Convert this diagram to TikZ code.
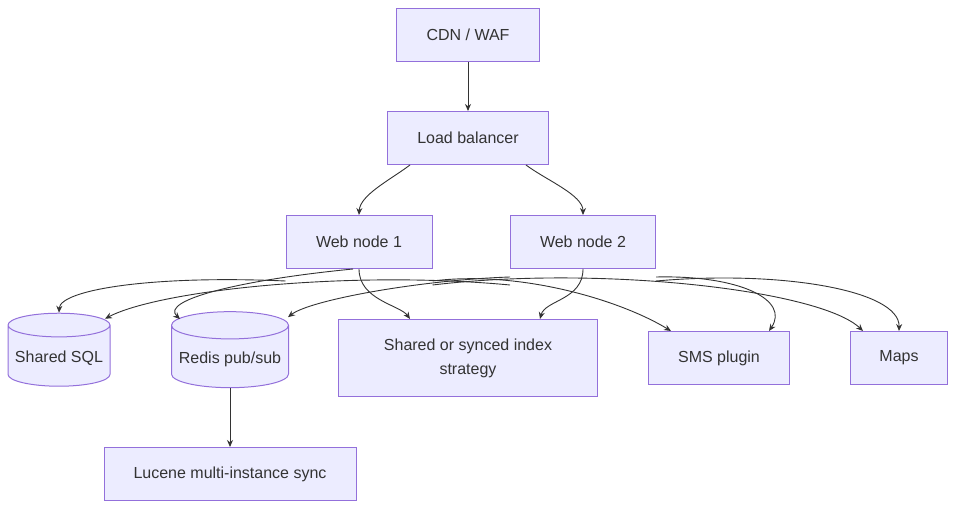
\documentclass[tikz,border=0pt]{standalone}
\usepackage{fontspec}
\setmainfont{Liberation Sans}
\usetikzlibrary{shapes.geometric,arrows.meta}
\definecolor{boxfill}{HTML}{ECECFF}
\definecolor{boxline}{HTML}{9370DB}
\definecolor{txt}{HTML}{333333}
\tikzset{
  box/.style={draw=boxline,fill=boxfill,line width=1pt,text=txt,minimum height=53pt,align=center,font=\fontsize{16}{24}\selectfont},
  db/.style={box,cylinder,shape border rotate=90,aspect=0.25,minimum height=0pt},
  link/.style={draw=txt,line width=0.9pt,-{Stealth[length=7pt,width=6pt]}}
}
\begin{document}
\begin{tikzpicture}[x=1pt,y=-1pt]
	\useasboundingbox (0,0) rectangle (957,510);
	
	\node[box,minimum width=143pt](cdn) at (468,35){CDN / WAF};
	\node[box,minimum width=161pt](lb) at (468,138){Load balancer};
	\node[box,minimum width=146pt](web1) at (359,242){Web node 1};
	\node[box,minimum width=145pt](web2) at (583,242){Web node 2};
	\node[db,minimum width=102pt,minimum height=73pt](sql) at (59,358){Shared SQL};
	\node[db,minimum width=117pt,minimum height=76pt](redis) at (230,359){Redis pub/sub};
	\node[box,minimum width=259pt,minimum height=77pt](idx) at (468,358){Shared or synced index\\strategy};
	\node[box,minimum width=141pt](sms) at (719,358){SMS plugin};
	\node[box,minimum width=97pt](maps) at (899,358){Maps};
	\node[box,minimum width=252pt](lucene) at (230,474){Lucene multi-instance sync};
	
	\draw[link](cdn)--(lb);
	\draw[link]([xshift=-58pt]lb.south) .. controls (390,180) and (360,195) .. (web1.north);
	\draw[link]([xshift=58pt]lb.south) .. controls (546,180) and (583,195) .. (web2.north);
	\draw[link]([yshift=-12pt]web1.south west) .. controls (150,275) and (60,290) .. (sql.north);
	\draw[link]([xshift=-6pt]web1.south) .. controls (240,280) and (160,300) .. ([xshift=-50pt,yshift=-8pt]redis.north);
	\draw[link](web1.south) .. controls (359,300) and (400,305) .. ([xshift=-58pt]idx.north);
	\draw[link]([yshift=-12pt]web1.south east) .. controls (520,270) and (620,300) .. ([xshift=-48pt]sms.north);
	\draw[link]([yshift=-16pt]web1.south east) .. controls (600,265) and (820,290) .. ([xshift=-36pt]maps.north);
	\draw[link]([yshift=-16pt]web2.south west) .. controls (350,270) and (160,290) .. ([xshift=46pt,yshift=-6pt]sql.north);
	\draw[link]([yshift=-8pt]web2.south west) .. controls (420,280) and (310,300) .. ([xshift=58pt,yshift=-6pt]redis.north);
	\draw[link](web2.south) .. controls (583,300) and (545,300) .. ([xshift=72pt]idx.north);
	\draw[link]([yshift=-8pt]web2.south east) .. controls (740,275) and (790,300) .. ([xshift=50pt]sms.north);
	\draw[link]([yshift=-12pt]web2.south east) .. controls (780,270) and (900,290) .. (maps.north);
	\draw[link](redis.south)--(lucene);
\end{tikzpicture}
\end{document}
